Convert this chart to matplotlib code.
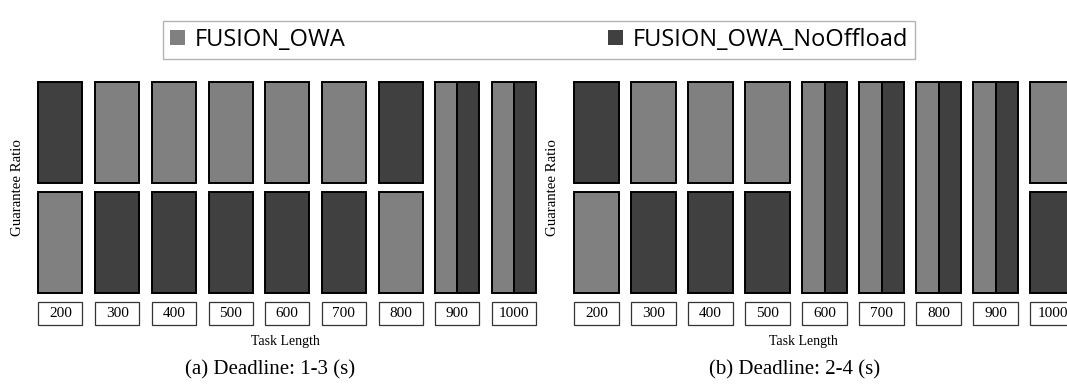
import matplotlib
matplotlib.use("Agg")
import matplotlib.pyplot as plt
import numpy as np

# ---- data ----
task_lengths = [200, 300, 400, 500, 600, 700, 800, 900, 1000]
series_names = ["FUSION_OWA", "FUSION_OWA_NoOffload"]
# rank 1 = top (better guarantee ratio), equal ranks = tie
rank_owa_a = [2, 1, 1, 1, 1, 1, 2, 1, 1]
rank_noof_a = [1, 2, 2, 2, 2, 2, 1, 1, 1]
rank_owa_b = [2, 1, 1, 1, 1, 1, 1, 1, 1]
rank_noof_b = [1, 2, 2, 2, 1, 1, 1, 1, 2]
captions = ["(a) Deadline: 1-3 (s)", "(b) Deadline: 2-4 (s)"]

# ---- style ----
C_OWA = "#808080"
C_NOOF = "#404040"
W = 1067
H = 391
DPI = 100
BOX_W = 0.776
BOX_H = 0.918
LW = 1.4
SERIF = "Liberation Serif"

fig = plt.figure(figsize=(W / DPI, H / DPI), dpi=DPI)


def px(x0, y0, x1, y1):
    return [x0 / W, 1 - y1 / H, (x1 - x0) / W, (y1 - y0) / H]


def draw_panel(ax, r_owa, r_noof):
    x = np.arange(len(task_lengths))
    handles = []
    for i, (ro, rn) in enumerate(zip(r_owa, r_noof)):
        if ro == rn:
            lo = min(ro, rn) - BOX_H / 2
            hgt = 1 + BOX_H
            h1 = ax.bar(x[i] - BOX_W / 4, hgt, width=BOX_W / 2, bottom=lo,
                        color=C_OWA, edgecolor="black", linewidth=LW)
            h2 = ax.bar(x[i] + BOX_W / 4, hgt, width=BOX_W / 2, bottom=lo,
                        color=C_NOOF, edgecolor="black", linewidth=LW)
        else:
            h1 = ax.bar(x[i], BOX_H, width=BOX_W, bottom=ro - BOX_H / 2,
                        color=C_OWA, edgecolor="black", linewidth=LW)
            h2 = ax.bar(x[i], BOX_H, width=BOX_W, bottom=rn - BOX_H / 2,
                        color=C_NOOF, edgecolor="black", linewidth=LW)
        handles = [h1, h2]
    # category label boxes
    lab_c = 2.645
    lab_h = 0.209
    ax.bar(x, lab_h, width=BOX_W, bottom=lab_c - lab_h / 2, color="white",
           edgecolor="#333333", linewidth=0.9)
    for i, t in enumerate(task_lengths):
        ax.text(x[i], lab_c, str(t), ha="center", va="center",
                family=SERIF, fontsize=11)
    ax.set_xlim(-0.5, 8.5)
    ax.set_ylim(2.9, 0.4)
    ax.axis("off")
    return handles


ax_a = fig.add_axes(px(32.15, 66.5, 542.3, 341.5))
ax_b = fig.add_axes(px(568, 66.5, 1081, 341.5))
hs = draw_panel(ax_a, rank_owa_a, rank_noof_a)
draw_panel(ax_b, rank_owa_b, rank_noof_b)

for xl, xt, xc, cap in [(18, 285, 270, captions[0]), (553, 803, 795, captions[1])]:
    fig.text(xl / W, 1 - 187.5 / H, "Guarantee Ratio", rotation=90,
             ha="center", va="center", family=SERIF, fontsize=10.7)
    fig.text(xt / W, 1 - 341 / H, "Task Length", ha="center", va="center",
             family=SERIF, fontsize=10)
    fig.text(xc / W, 1 - 370 / H, cap, ha="center", va="center",
             family=SERIF, fontsize=15)

leg = fig.legend([hs[0], hs[1]], series_names, ncol=2, mode="expand",
                 loc="lower left",
                 bbox_to_anchor=(163 / W, 1 - 59 / H, (915 - 163) / W, 49 / H),
                 borderaxespad=0, prop={"family": "Open Sans", "size": 17},
                 handlelength=0.62, handleheight=0.62, handletextpad=0.42,
                 fancybox=False, frameon=True, borderpad=0.3)
leg.get_frame().set_edgecolor("#a0a0a0")
leg.get_frame().set_linewidth(1.0)
for p in leg.get_patches():
    p.set_edgecolor("none")

fig.savefig("out.png", dpi=DPI)
